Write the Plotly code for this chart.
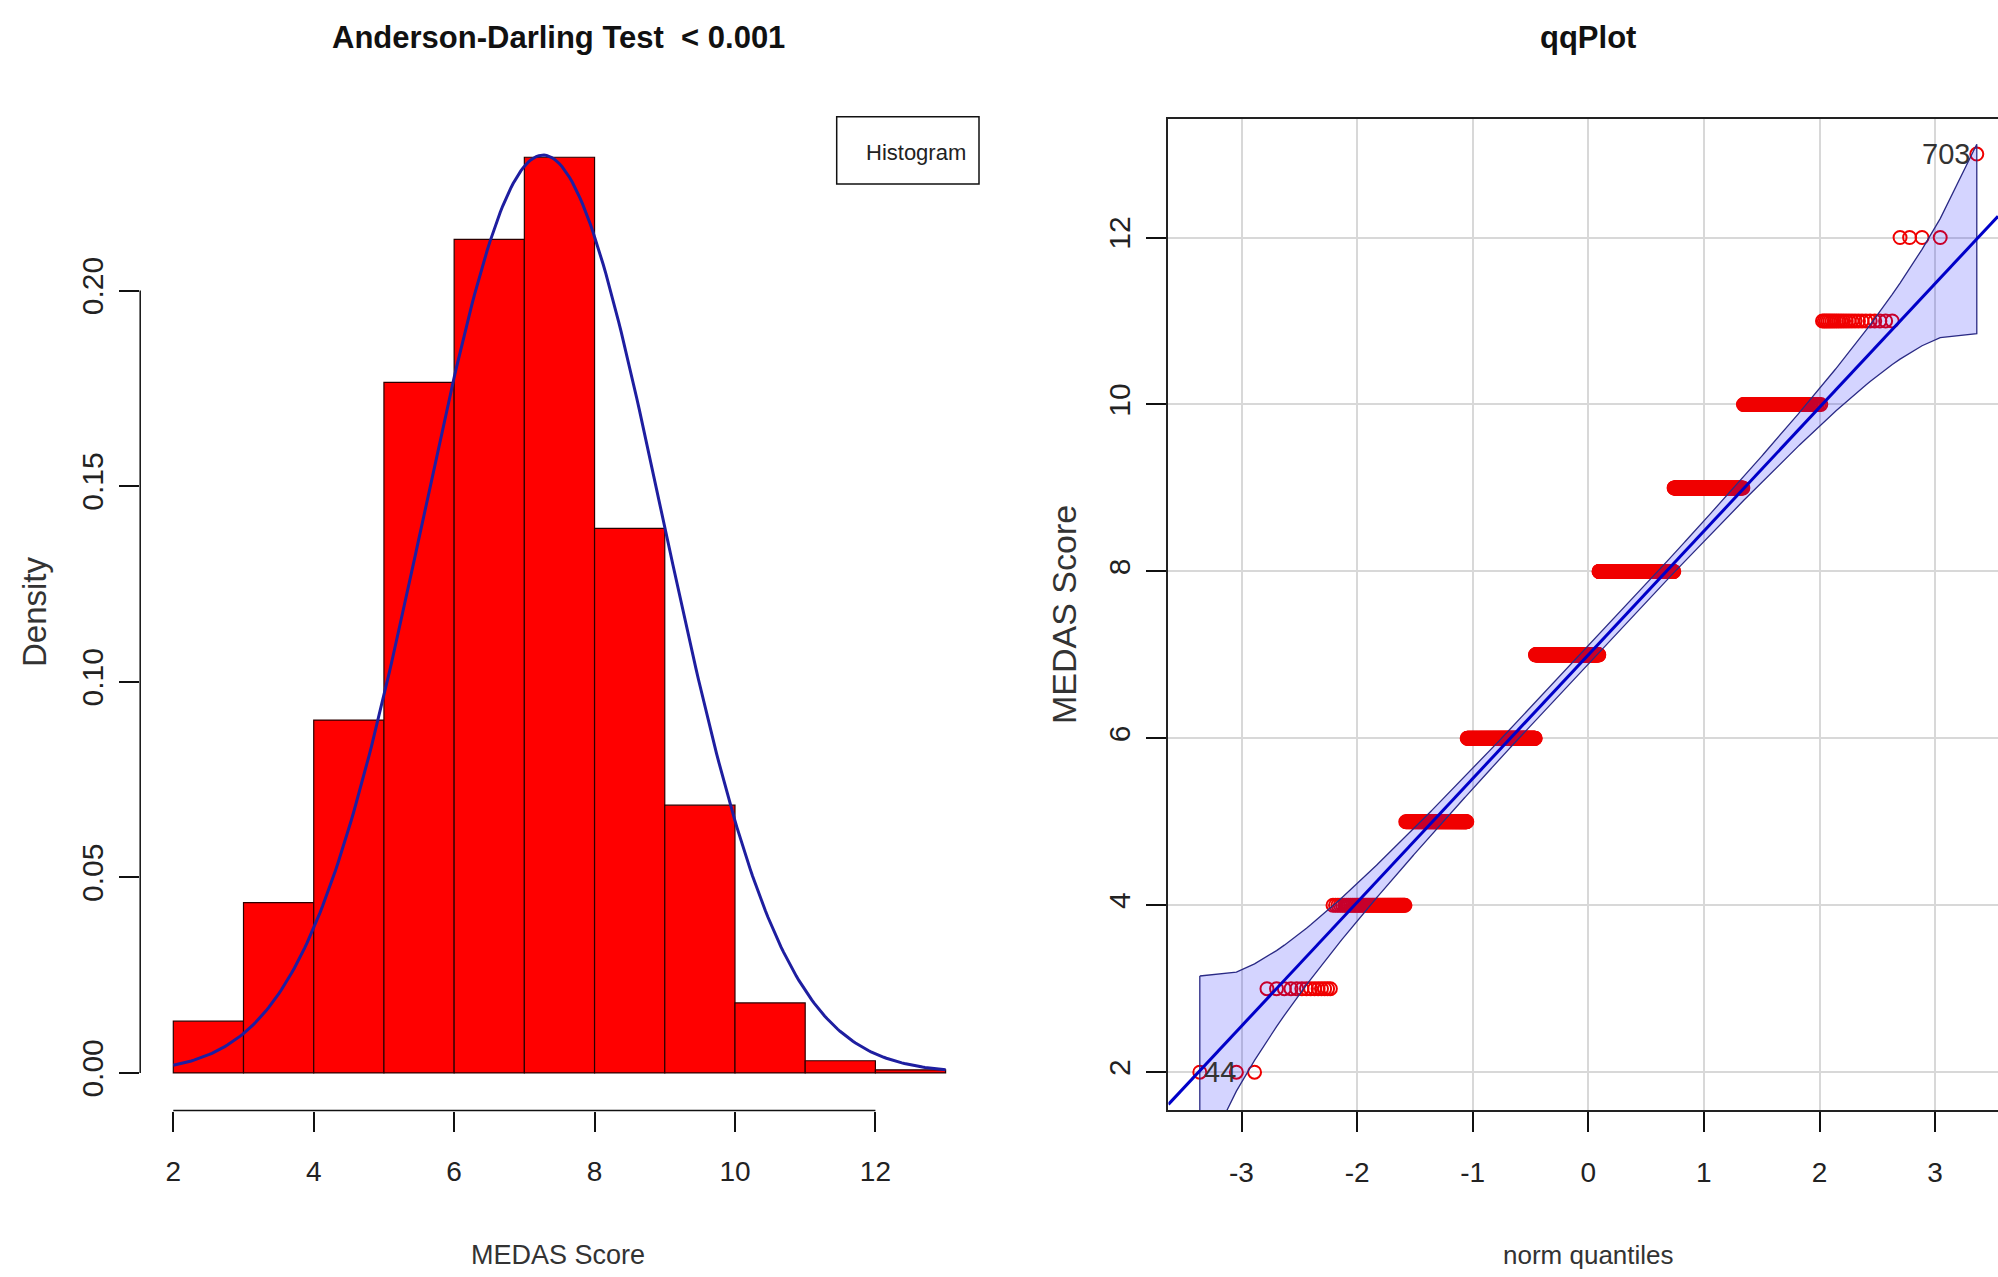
import math
from statistics import NormalDist
import numpy as np
import plotly.graph_objects as go

W, H = 1998, 1277

# ---------------- data ----------------
scores = [2, 3, 4, 5, 6, 7, 8, 9, 10, 11, 12, 13]
counts = [3, 14, 56, 116, 227, 274, 301, 179, 88, 23, 4, 1]
hist_breaks = [2, 3, 4, 5, 6, 7, 8, 9, 10, 11, 12, 13]
hist_xticks = [2, 4, 6, 8, 10, 12]
hist_yticks = [0.00, 0.05, 0.10, 0.15, 0.20]
qq_xticks = [-3, -2, -1, 0, 1, 2, 3]
qq_yticks = [2, 4, 6, 8, 10, 12]
id_low, id_high = "44", "703"
title_left = "Anderson-Darling Test  < 0.001"
title_right = "qqPlot"
xlab_left = "MEDAS Score"
ylab_left = "Density"
xlab_right = "norm quantiles"
ylab_right = "MEDAS Score"
legend_text = "Histogram"

# ---------------- derived statistics ----------------
values = []
for s, c in zip(scores, counts):
    values += [s] * c
values = np.array(sorted(values), dtype=float)
n = len(values)

# histogram densities, R style (right-closed bins, include lowest)
dens = []
for i in range(len(hist_breaks) - 1):
    a, b = hist_breaks[i], hist_breaks[i + 1]
    if i == 0:
        m = np.sum((values >= a) & (values <= b))
    else:
        m = np.sum((values > a) & (values <= b))
    dens.append(m / n / (b - a))
mids = [(hist_breaks[i] + hist_breaks[i + 1]) / 2 for i in range(len(hist_breaks) - 1)]

# fitted normal density (mean / sd of the data)
mu = float(values.mean())
sd = float(values.std(ddof=1))
nd = NormalDist(mu, sd)
cx = np.linspace(hist_breaks[0], hist_breaks[-1], 301)
cy = [nd.pdf(v) for v in cx]

# normal QQ quantities
std = NormalDist()
P = [(i + 0.5) / n for i in range(n)]
z = np.array([std.inv_cdf(p) for p in P])
q1, q3 = np.percentile(values, [25, 75])
slope = (q3 - q1) / (std.inv_cdf(0.75) - std.inv_cdf(0.25))
intercept = q1 - slope * std.inv_cdf(0.25)
zz = std.inv_cdf(0.975)
fit = intercept + slope * z
se = np.array([(slope / std.pdf(zi)) * math.sqrt(p * (1 - p) / n) for zi, p in zip(z, P)])
upper = fit + zz * se
lower = fit - zz * se

# ---------------- layout geometry (pixels) ----------------
L_left, L_right, L_top, L_bot = 140.2, 985.0, 118.5, 1110.5
hx_a, hx_apx, hx_scale = 2.0, 173.3, 70.21
hy_0px, hy_scale = 1072.9, 3912.0
h_xrange = [hx_a - (hx_apx - L_left) / hx_scale, hx_a + (L_right - hx_apx) / hx_scale]
h_yrange = [-(L_bot - hy_0px) / hy_scale, (hy_0px - L_top) / hy_scale]

R_left, R_right, R_top, R_bot = 1168.4, 1998.0, 118.5, 1110.0
qx_0px, qx_scale = 1588.3, 115.6
qy_2px, qy_scale = 1072.2, 83.47
q_xrange = [(R_left - qx_0px) / qx_scale, (R_right - qx_0px) / qx_scale]
q_yrange = [2 - (R_bot - qy_2px) / qy_scale, 2 + (qy_2px - R_top) / qy_scale]


def px(xp):
    return xp / W


def py(yp):
    return (H - yp) / H


FONT = "Liberation Sans, Arial, sans-serif"

fig = go.Figure()

# histogram
fig.add_trace(go.Bar(x=mids, y=dens, width=[1.0] * len(mids),
                     marker=dict(color="#FF0000", line=dict(color="#2a0000", width=1.2)),
                     xaxis="x", yaxis="y", showlegend=False))
fig.add_trace(go.Scatter(x=cx, y=cy, mode="lines",
                         line=dict(color="#1E1EA0", width=3),
                         xaxis="x", yaxis="y", showlegend=False))

# qq points
fig.add_trace(go.Scatter(x=z, y=values, mode="markers",
                         marker=dict(symbol="circle-open", size=13, color="#F00000",
                                     line=dict(width=2)),
                         xaxis="x2", yaxis="y2", showlegend=False))
# envelope
ex = list(z) + list(z[::-1]) + [z[0]]
ey = list(upper) + list(lower[::-1]) + [upper[0]]
fig.add_trace(go.Scatter(x=ex, y=ey, mode="lines", fill="toself",
                         fillcolor="rgba(0,0,255,0.17)",
                         line=dict(color="#2A2A85", width=1.3),
                         xaxis="x2", yaxis="y2", showlegend=False))
# reference line
lx = np.array(q_xrange)
fig.add_trace(go.Scatter(x=lx, y=intercept + slope * lx, mode="lines",
                         line=dict(color="#0000C8", width=3),
                         xaxis="x2", yaxis="y2", showlegend=False))

tickfont_h = dict(family=FONT, size=28, color="#222")
tickfont_v = dict(family=FONT, size=30, color="#222")

fig.update_layout(
    width=W, height=H, autosize=False,
    margin=dict(l=0, r=0, t=0, b=0),
    paper_bgcolor="white", plot_bgcolor="white",
    xaxis=dict(domain=[px(L_left), px(L_right)], range=h_xrange, anchor="y",
               tickmode="array", tickvals=hist_xticks, ticktext=[str(v) for v in hist_xticks],
               ticks="outside", ticklen=20, tickwidth=1.5, tickcolor="#111",
               showline=False, showgrid=False, zeroline=False,
               tickfont=tickfont_h, ticklabelstandoff=16),
    yaxis=dict(domain=[py(L_bot), py(L_top)], range=h_yrange, anchor="x",
               tickmode="array", tickvals=hist_yticks,
               ticktext=["%.2f" % v for v in hist_yticks],
               ticks="outside", ticklen=20, tickwidth=1.5, tickcolor="#111",
               showline=False, showgrid=False, zeroline=False,
               tickangle=-90, tickfont=tickfont_v, ticklabelstandoff=4),
    xaxis2=dict(domain=[px(R_left), px(R_right)], range=q_xrange, anchor="y2",
                tickmode="array", tickvals=qq_xticks, ticktext=[str(v) for v in qq_xticks],
                ticks="outside", ticklen=20, tickwidth=1.5, tickcolor="#111",
                showline=True, mirror=True, linecolor="#222", linewidth=2,
                showgrid=True, gridcolor="#D8D8D8", gridwidth=1.5, zeroline=False,
                tickfont=tickfont_h, ticklabelstandoff=16),
    yaxis2=dict(domain=[py(R_bot), py(R_top)], range=q_yrange, anchor="x2",
                tickmode="array", tickvals=qq_yticks, ticktext=[str(v) for v in qq_yticks],
                ticks="outside", ticklen=20, tickwidth=1.5, tickcolor="#111",
                showline=True, mirror=False, linecolor="#222", linewidth=2,
                showgrid=True, gridcolor="#D8D8D8", gridwidth=1.5, zeroline=False,
                tickangle=-90, tickfont=tickfont_v, ticklabelstandoff=4),
)

shapes = [
    # R-style histogram axes (only spanning the tick range)
    dict(type="line", xref="x", yref="y domain", x0=hist_xticks[0], x1=hist_xticks[-1],
         y0=0, y1=0, line=dict(color="#111", width=1.5)),
    dict(type="line", xref="x domain", yref="y", x0=0, x1=0,
         y0=hist_yticks[0], y1=hist_yticks[-1], line=dict(color="#111", width=1.5)),
    # legend box
    dict(type="rect", xref="paper", yref="paper", x0=px(836.7), x1=px(979), y0=py(184), y1=py(116.7),
         line=dict(color="#111", width=1.5), fillcolor="white"),
]
fig.update_layout(shapes=shapes)

ann = [
    dict(text="<b>%s</b>" % title_left, x=px(558), y=py(38), xref="paper", yref="paper",
         showarrow=False, xanchor="center", yanchor="middle",
         font=dict(family=FONT, size=31, color="#111")),
    dict(text="<b>%s</b>" % title_right, x=px(1588), y=py(38), xref="paper", yref="paper",
         showarrow=False, xanchor="center", yanchor="middle",
         font=dict(family=FONT, size=31, color="#111")),
    dict(text=xlab_left, x=px(558), y=py(1255), xref="paper", yref="paper",
         showarrow=False, xanchor="center", yanchor="middle",
         font=dict(family=FONT, size=27, color="#333")),
    dict(text=xlab_right, x=px(1588), y=py(1255), xref="paper", yref="paper",
         showarrow=False, xanchor="center", yanchor="middle",
         font=dict(family=FONT, size=26, color="#333")),
    dict(text=ylab_left, x=px(34), y=py(612), xref="paper", yref="paper", textangle=-90,
         showarrow=False, xanchor="center", yanchor="middle",
         font=dict(family=FONT, size=33, color="#333")),
    dict(text=ylab_right, x=px(1064), y=py(615), xref="paper", yref="paper", textangle=-90,
         showarrow=False, xanchor="center", yanchor="middle",
         font=dict(family=FONT, size=34, color="#333")),
    dict(text=legend_text, x=px(968), y=py(153), xref="paper", yref="paper",
         showarrow=False, xanchor="right", yanchor="middle",
         font=dict(family=FONT, size=22, color="#222")),
    dict(text=id_high, x=float(z[-1]), y=float(values[-1]), xref="x2", yref="y2",
         showarrow=False, xanchor="right", yanchor="middle", xshift=-5,
         font=dict(family=FONT, size=29, color="#333")),
    dict(text=id_low, x=float(z[0]), y=float(values[0]), xref="x2", yref="y2",
         showarrow=False, xanchor="left", yanchor="middle", xshift=2,
         font=dict(family=FONT, size=29, color="#333")),
]
fig.update_layout(annotations=ann)

fig.write_html("out.html")
